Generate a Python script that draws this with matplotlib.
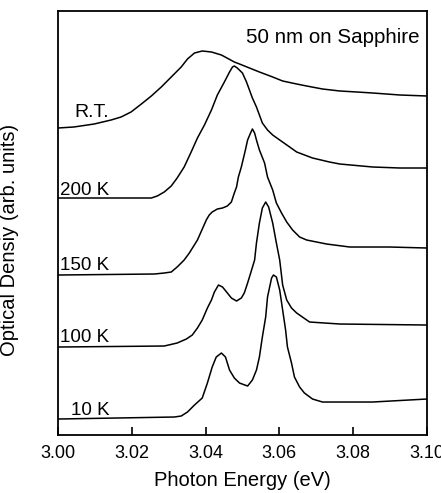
import matplotlib
matplotlib.use("Agg")
import matplotlib.pyplot as plt

plt.rcParams['font.family'] = ['Liberation Sans', 'DejaVu Sans']

# photon energy (eV) and optical density (arb. units)
e_rt = [3.0000, 3.0043, 3.0098, 3.0144, 3.0171, 3.0198, 3.0226, 3.0253, 3.0280, 3.0307,
        3.0334, 3.0351, 3.0370, 3.0391, 3.0416, 3.0443, 3.0478, 3.0492, 3.0519, 3.0546,
        3.0582, 3.0609, 3.0647, 3.0674, 3.0717, 3.0764, 3.0810, 3.0853, 3.0927, 3.1000]
od_rt = [3.07, 3.08, 3.11, 3.15, 3.18, 3.23, 3.31, 3.39, 3.48, 3.58,
         3.68, 3.76, 3.82, 3.84, 3.83, 3.80, 3.73, 3.71, 3.67, 3.63,
         3.58, 3.54, 3.51, 3.49, 3.46, 3.44, 3.43, 3.42, 3.40, 3.39]

e_200 = [3.0000, 3.0234, 3.0253, 3.0269, 3.0288, 3.0307, 3.0323, 3.0342, 3.0361, 3.0378,
         3.0397, 3.0416, 3.0432, 3.0451, 3.0465, 3.0473, 3.0478, 3.0486, 3.0500, 3.0511,
         3.0519, 3.0527, 3.0538, 3.0546, 3.0554, 3.0568, 3.0582, 3.0601, 3.0628, 3.0647,
         3.0690, 3.0736, 3.0764, 3.0853, 3.0927, 3.1000]
od_200 = [2.37, 2.37, 2.37, 2.39, 2.43, 2.49, 2.57, 2.68, 2.83, 2.97,
          3.10, 3.25, 3.40, 3.53, 3.63, 3.68, 3.69, 3.67, 3.62, 3.53,
          3.45, 3.37, 3.28, 3.20, 3.12, 3.05, 3.00, 2.95, 2.88, 2.83,
          2.77, 2.73, 2.71, 2.68, 2.67, 2.67]

e_150 = [3.0000, 3.0261, 3.0288, 3.0307, 3.0323, 3.0342, 3.0356, 3.0378, 3.0402, 3.0410,
         3.0418, 3.0432, 3.0446, 3.0459, 3.0470, 3.0478, 3.0484, 3.0489, 3.0497, 3.0508,
         3.0514, 3.0522, 3.0527, 3.0533, 3.0538, 3.0546, 3.0560, 3.0568, 3.0582, 3.0592,
         3.0606, 3.0620, 3.0636, 3.0655, 3.0674, 3.0728, 3.0791, 3.0899, 3.1000]
od_150 = [1.60, 1.61, 1.62, 1.63, 1.68, 1.75, 1.82, 1.95, 2.15, 2.20,
          2.23, 2.26, 2.27, 2.29, 2.33, 2.42, 2.48, 2.58, 2.68, 2.85,
          2.95, 3.02, 3.06, 3.02, 2.95, 2.85, 2.72, 2.58, 2.45, 2.32,
          2.22, 2.13, 2.05, 1.98, 1.95, 1.91, 1.88, 1.88, 1.87]

e_100 = [3.0000, 3.0288, 3.0323, 3.0348, 3.0364, 3.0378, 3.0391, 3.0405, 3.0416, 3.0424,
         3.0435, 3.0446, 3.0457, 3.0470, 3.0484, 3.0497, 3.0505, 3.0514, 3.0519, 3.0533,
         3.0538, 3.0546, 3.0554, 3.0563, 3.0571, 3.0582, 3.0592, 3.0601, 3.0609, 3.0620,
         3.0633, 3.0647, 3.0682, 3.0764, 3.1000]
od_100 = [0.88, 0.89, 0.92, 0.96, 1.00, 1.07, 1.15, 1.27, 1.35, 1.43,
          1.50, 1.48, 1.43, 1.37, 1.34, 1.37, 1.42, 1.52, 1.58, 1.75,
          1.92, 2.12, 2.27, 2.33, 2.28, 2.12, 1.92, 1.75, 1.50, 1.35,
          1.27, 1.22, 1.13, 1.11, 1.10]

e_10 = [3.0000, 3.0315, 3.0334, 3.0351, 3.0370, 3.0391, 3.0405, 3.0418, 3.0429, 3.0443,
        3.0454, 3.0465, 3.0478, 3.0492, 3.0514, 3.0527, 3.0538, 3.0546, 3.0554, 3.0563,
        3.0568, 3.0579, 3.0584, 3.0592, 3.0601, 3.0609, 3.0617, 3.0622, 3.0633, 3.0641,
        3.0655, 3.0668, 3.0690, 3.0717, 3.0853, 3.1000]
od_10 = [0.16, 0.18, 0.19, 0.23, 0.30, 0.37, 0.52, 0.68, 0.78, 0.82,
         0.78, 0.65, 0.57, 0.52, 0.49, 0.55, 0.65, 0.78, 0.98, 1.18,
         1.38, 1.57, 1.60, 1.58, 1.45, 1.25, 1.05, 0.88, 0.72, 0.58,
         0.48, 0.42, 0.36, 0.33, 0.33, 0.36]

labels = ['R.T.', '200 K', '150 K', '100 K', '10 K']
label_y = [3.18, 2.40, 1.65, 0.93, 0.20]

fig = plt.figure(figsize=(4.41, 4.93), dpi=100)
ax = fig.add_axes([0.1315, 0.1176, 0.8365, 0.8601])

for e, od in [(e_rt, od_rt), (e_200, od_200), (e_150, od_150), (e_100, od_100), (e_10, od_10)]:
    ax.plot(e, od, color='black', lw=1.1, solid_joinstyle='round')

for lab, y in zip(labels, label_y):
    ax.text(3.0139, y, lab, ha='right', va='baseline', fontsize=14 if lab == 'R.T.' else 13.5)

ax.text(3.0981, 3.92, '50 nm on Sapphire', ha='right', va='baseline', fontsize=14.8)

ax.set_xlim(3.00, 3.10)
ax.set_ylim(0, 4.24)
ax.set_xticks([3.00, 3.02, 3.04, 3.06, 3.08, 3.10])
ax.set_xticklabels(['3.00', '3.02', '3.04', '3.06', '3.08', '3.10'])
ax.set_yticks([])
ax.tick_params(axis='x', direction='in', length=6, width=1.2, labelsize=13, pad=7)
for s in ax.spines.values():
    s.set_linewidth(1.3)

ax.set_xlabel('Photon Energy (eV)', fontsize=14.5, labelpad=7)
ax.set_ylabel('Optical Densiy (arb. units)', fontsize=14.5)
ax.yaxis.set_label_coords(-0.105, 0.46)

fig.savefig('out.png', dpi=100)
